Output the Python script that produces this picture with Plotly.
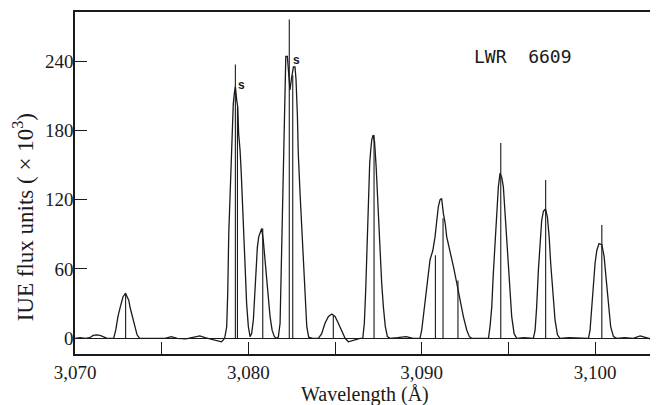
import plotly.graph_objects as go

# Spectrum trace (wavelength in Å, flux in 10^3 IUE units)
wavelength = [
    3070.0, 3070.3, 3070.6, 3070.85, 3071.05, 3071.25, 3071.45, 3071.65, 3071.85, 3072.1,
    3072.23, 3072.35, 3072.48, 3072.61, 3072.77, 3072.87, 3072.92, 3072.96, 3073.10, 3073.19,
    3073.31, 3073.44, 3073.58, 3073.73,
    3074.2, 3074.7, 3075.2, 3075.55, 3075.9, 3076.4, 3076.9, 3077.2, 3077.5, 3077.9, 3078.2,
    3078.45, 3078.58,
    3078.65, 3078.75, 3078.81, 3078.87, 3078.94, 3079.0, 3079.06, 3079.13, 3079.19, 3079.25,
    3079.33, 3079.39, 3079.44, 3079.52, 3079.59, 3079.67, 3079.75, 3079.83, 3079.90, 3080.0,
    3080.1,
    3080.19, 3080.29, 3080.38, 3080.44, 3080.52, 3080.60, 3080.67, 3080.77, 3080.86, 3080.96,
    3081.06, 3081.15, 3081.25, 3081.37, 3081.50, 3081.64,
    3081.73, 3081.83, 3081.88, 3081.96, 3082.02, 3082.06, 3082.10, 3082.16, 3082.25, 3082.33,
    3082.40, 3082.50, 3082.60, 3082.69, 3082.75, 3082.83, 3082.88, 3082.98, 3083.08, 3083.17,
    3083.27, 3083.37, 3083.48,
    3083.7, 3084.04,
    3084.23, 3084.42, 3084.62, 3084.81, 3085.0, 3085.19, 3085.39, 3085.58, 3085.77, 3085.96,
    3086.15, 3086.44,
    3086.60, 3086.69, 3086.77, 3086.83, 3086.89, 3086.94, 3087.0, 3087.06, 3087.12, 3087.2,
    3087.28, 3087.37, 3087.44, 3087.52, 3087.60, 3087.69, 3087.79, 3087.90, 3088.02, 3088.17,
    3088.6, 3089.1, 3089.5, 3089.9,
    3090.0, 3090.09, 3090.19, 3090.29, 3090.38, 3090.48, 3090.64, 3090.77, 3090.87, 3090.96,
    3091.06, 3091.15, 3091.25, 3091.35, 3091.44, 3091.63, 3091.83, 3092.02, 3092.21, 3092.40,
    3092.60, 3092.75, 3092.88,
    3093.3, 3093.6,
    3093.85, 3093.94, 3094.04, 3094.13, 3094.23, 3094.33, 3094.42, 3094.52, 3094.62, 3094.71,
    3094.81, 3094.90, 3095.0, 3095.10, 3095.19, 3095.33, 3095.48,
    3095.9, 3096.2,
    3096.44, 3096.54, 3096.63, 3096.73, 3096.83, 3096.92, 3097.02, 3097.14, 3097.25, 3097.35,
    3097.44, 3097.56, 3097.69, 3097.83, 3097.98,
    3098.5, 3099.0, 3099.4,
    3099.62, 3099.71, 3099.81, 3099.90, 3100.0, 3100.10, 3100.23, 3100.39, 3100.52, 3100.63,
    3100.77, 3100.90, 3101.06, 3101.25,
    3101.7, 3102.2, 3102.6, 3102.9, 3103.3, 3103.6,
]
flux = [
    0, 0.5, 0, 0.5, 2.5, 3, 2.5, 1, 0, 0,
    0, 7, 19, 27, 36, 38, 39, 37.5, 33, 26,
    19, 10, 3, 0,
    0, -0.5, 0, 1.5, 0, -0.5, 1, 2, 0.5, -1, -1.5,
    -3, -1,
    1.4, 10, 39, 91, 120, 143, 180, 203, 212, 218,
    206, 200, 177, 163, 143, 108, 85, 56, 30, 10,
    1.4,
    4, 16, 39, 56, 79, 88, 91, 95, 85, 68,
    50, 33, 19, 7, 1.4, 0,
    1, 13, 45, 97, 137, 172, 209, 244, 244, 229,
    215, 226, 235, 235, 224, 192, 160, 126, 97, 62,
    33, 10, 1,
    0, 0,
    4, 13, 19, 21, 19, 13, 6, 0, -3, -2,
    -1, 0,
    0, 13, 42, 76, 105, 134, 152, 163, 172, 176,
    170, 149, 126, 97, 71, 48, 27, 10, 1.4, 0,
    0.5, 1.5, 0, 0,
    7, 19, 30, 42, 56, 68, 76, 88, 102, 114,
    120, 121, 108, 100, 88, 76, 62, 48, 33, 19,
    7, 1.4, 0,
    0, 0.5,
    0, 10, 27, 56, 82, 111, 131, 143, 139, 131,
    108, 85, 62, 39, 19, 4, 0,
    0.5, 0,
    0, 7, 27, 59, 85, 102, 110, 112, 105, 88,
    65, 39, 16, 3, 0,
    0.5, 0, 0,
    0, 7, 27, 48, 65, 76, 82, 81, 71, 53,
    30, 10, 1.4, 0,
    0.5, 0, 2, 0.5, -1, 0,
]

# Vertical marker lines (wavelength, height)
line_wavelength = [3072.92, 3079.25, 3079.37, 3080.83, 3082.36, 3082.56, 3084.90, 3087.25,
                   3090.79, 3091.23, 3092.09, 3094.56, 3097.15, 3100.39]
line_height = [39, 237, 200, 95, 276, 228, 20, 176, 72, 104, 50, 169, 137, 98]

x_tick_values = [3070, 3080, 3090, 3100]
x_tick_labels = ["3,070", "3,080", "3,090", "3,100"]
x_minor_tick_values = [3075, 3085, 3095]
y_tick_values = [0, 60, 120, 180, 240]
y_tick_labels = ["0", "60", "120", "180", "240"]

seg_x, seg_y = [], []
for lw, lh in zip(line_wavelength, line_height):
    seg_x += [lw, lw, None]
    seg_y += [0, lh, None]

serif = "Liberation Serif, Times New Roman, serif"
ink = "#1a1a1a"

fig = go.Figure()
fig.add_trace(go.Scatter(x=wavelength, y=flux, mode="lines",
                         line=dict(color=ink, width=1.3), hoverinfo="skip"))
fig.add_trace(go.Scatter(x=seg_x, y=seg_y, mode="lines",
                         line=dict(color=ink, width=1.1), hoverinfo="skip"))

fig.add_annotation(x=3079.58, y=219, text="<b>s</b>", showarrow=False,
                   font=dict(family="Liberation Sans, Arial", size=12, color=ink))
fig.add_annotation(x=3082.75, y=241, text="<b>s</b>", showarrow=False,
                   font=dict(family="Liberation Sans, Arial", size=12, color=ink))
fig.add_annotation(x=3095.82, y=244, text="LWR  6609", showarrow=False,
                   font=dict(family="DejaVu Sans Mono, Liberation Mono, monospace", size=18,
                             color=ink))
fig.add_annotation(xref="paper", yref="paper", x=-0.089, y=0.40,
                   text="IUE flux units ( × 10<sup>3</sup>)", textangle=-90,
                   showarrow=False, xanchor="center", yanchor="middle",
                   font=dict(family=serif, size=23, color=ink))
fig.add_annotation(xref="paper", yref="paper", x=0.497, y=-0.117,
                   text="Wavelength (Å)", showarrow=False,
                   xanchor="center", yanchor="middle",
                   font=dict(family=serif, size=20, color=ink))

fig.update_layout(
    width=650, height=397,
    margin=dict(l=67, r=0, t=4, b=51, autoexpand=False),
    paper_bgcolor="white", plot_bgcolor="white",
    showlegend=False,
    font=dict(family=serif, size=19, color=ink),
    xaxis=dict(
        range=[3070, 3103.63],
        tickvals=x_tick_values, ticktext=x_tick_labels,
        ticks="inside", ticklen=12, tickwidth=1.3, tickcolor=ink,
        minor=dict(tickvals=x_minor_tick_values, ticks="inside", ticklen=12,
                   tickwidth=1.3, tickcolor=ink, showgrid=False),
        showline=True, linecolor=ink, linewidth=1.5, mirror=True,
        showgrid=False, zeroline=False,
        tickfont=dict(family=serif, size=19),
    ),
    yaxis=dict(
        range=[-13.6, 282.5],
        tickvals=y_tick_values, ticktext=y_tick_labels,
        ticks="inside", ticklen=12, tickwidth=1.3, tickcolor=ink,
        ticklabelstandoff=-4,
        showline=True, linecolor=ink, linewidth=1.5, mirror=False,
        showgrid=False, zeroline=True, zerolinecolor=ink, zerolinewidth=1.2,
        tickfont=dict(family=serif, size=19),
    ),
)

fig.write_html("out.html")
